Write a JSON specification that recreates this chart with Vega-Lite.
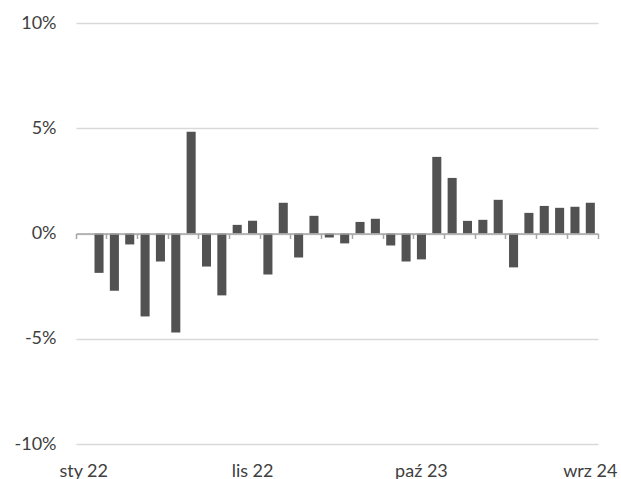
{
  "$schema": "https://vega.github.io/schema/vega-lite/v6.json",
  "autosize": {"type": "none"},
  "padding": {"left": 76, "top": 23, "right": 23, "bottom": 35},
  "width": 522,
  "height": 421,
  "background": "white",
  "config": {"view": {"stroke": null}},
  "data": {"values": [
    {"okres": "gru 21", "zmiana": null},
    {"okres": "sty 22", "zmiana": -1.87},
    {"okres": "lut 22", "zmiana": -2.72},
    {"okres": "mar 22", "zmiana": -0.52},
    {"okres": "kwi 22", "zmiana": -3.94},
    {"okres": "maj 22", "zmiana": -1.33},
    {"okres": "cze 22", "zmiana": -4.70},
    {"okres": "lip 22", "zmiana": 4.83},
    {"okres": "sie 22", "zmiana": -1.57},
    {"okres": "wrz 22", "zmiana": -2.94},
    {"okres": "paź 22", "zmiana": 0.41},
    {"okres": "lis 22", "zmiana": 0.60},
    {"okres": "gru 22", "zmiana": -1.95},
    {"okres": "sty 23", "zmiana": 1.46},
    {"okres": "lut 23", "zmiana": -1.14},
    {"okres": "mar 23", "zmiana": 0.84},
    {"okres": "kwi 23", "zmiana": -0.19},
    {"okres": "maj 23", "zmiana": -0.47},
    {"okres": "cze 23", "zmiana": 0.55},
    {"okres": "lip 23", "zmiana": 0.70},
    {"okres": "sie 23", "zmiana": -0.57},
    {"okres": "wrz 23", "zmiana": -1.33},
    {"okres": "paź 23", "zmiana": -1.23},
    {"okres": "lis 23", "zmiana": 3.64},
    {"okres": "gru 23", "zmiana": 2.64},
    {"okres": "sty 24", "zmiana": 0.60},
    {"okres": "lut 24", "zmiana": 0.65},
    {"okres": "mar 24", "zmiana": 1.60},
    {"okres": "kwi 24", "zmiana": -1.61},
    {"okres": "maj 24", "zmiana": 0.98},
    {"okres": "cze 24", "zmiana": 1.31},
    {"okres": "lip 24", "zmiana": 1.22},
    {"okres": "sie 24", "zmiana": 1.27},
    {"okres": "wrz 24", "zmiana": 1.46}
  ]},
  "layer": [
    {
      "mark": {"type": "bar", "color": "#525252", "width": {"band": 0.59}},
      "encoding": {
        "x": {
          "field": "okres", "type": "ordinal", "sort": null,
          "scale": {
            "paddingInner": 0, "paddingOuter": 0,
            "domain": ["gru 21", "sty 22", "lut 22", "mar 22", "kwi 22", "maj 22", "cze 22", "lip 22", "sie 22", "wrz 22", "paź 22", "lis 22", "gru 22", "sty 23", "lut 23", "mar 23", "kwi 23", "maj 23", "cze 23", "lip 23", "sie 23", "wrz 23", "paź 23", "lis 23", "gru 23", "sty 24", "lut 24", "mar 24", "kwi 24", "maj 24", "cze 24", "lip 24", "sie 24", "wrz 24"]
          },
          "axis": {
            "orient": "bottom", "title": null, "domain": false, "ticks": false, "grid": false,
            "values": ["gru 21", "lis 22", "paź 23", "wrz 24"],
            "labelExpr": "datum.value == 'gru 21' ? 'sty 22' : datum.value",
            "labelAngle": 0, "labelPadding": 18, "labelFont": "Lato", "labelFontSize": 18,
            "labelColor": "#404040", "labelOverlap": false
          }
        },
        "y": {
          "field": "zmiana", "type": "quantitative",
          "scale": {"domain": [-10, 10], "nice": false, "zero": false},
          "axis": {
            "title": null, "values": [-10, -5, 0, 5, 10], "domain": false, "ticks": false,
            "grid": true, "gridColor": "#d9d9d9", "gridWidth": 1.5,
            "labelExpr": "datum.value + '%'", "labelPadding": 20, "labelFont": "Lato",
            "labelFontSize": 18, "labelColor": "#404040"
          }
        }
      }
    },
    {
      "mark": {"type": "rule", "opacity": 0},
      "encoding": {
        "x": {
          "field": "okres", "type": "ordinal", "sort": null,
          "axis": {
            "orient": "bottom", "offset": -210.5, "title": null, "labels": false, "grid": false,
            "domain": true, "domainColor": "#a6a6a6", "domainWidth": 1.5,
            "ticks": true, "tickSize": 5, "tickColor": "#a6a6a6", "tickWidth": 1.5,
            "bandPosition": 0,
            "values": ["gru 21", "lut 22", "kwi 22", "cze 22", "sie 22", "paź 22", "gru 22", "lut 23", "kwi 23", "cze 23", "sie 23", "paź 23", "gru 23", "lut 24", "kwi 24", "cze 24", "sie 24"],
            "zindex": 1
          }
        }
      }
    },
    {
      "mark": {"type": "rule", "opacity": 0},
      "encoding": {
        "x": {
          "field": "okres", "type": "ordinal", "sort": null,
          "axis": {
            "orient": "bottom", "offset": -210.5, "title": null, "labels": false, "grid": false,
            "domain": false,
            "ticks": true, "tickSize": 5, "tickColor": "#a6a6a6", "tickWidth": 1.5,
            "bandPosition": 1,
            "values": ["wrz 24"],
            "zindex": 1
          }
        }
      }
    }
  ],
  "resolve": {"scale": {"x": "shared"}, "axis": {"x": "independent"}}
}
